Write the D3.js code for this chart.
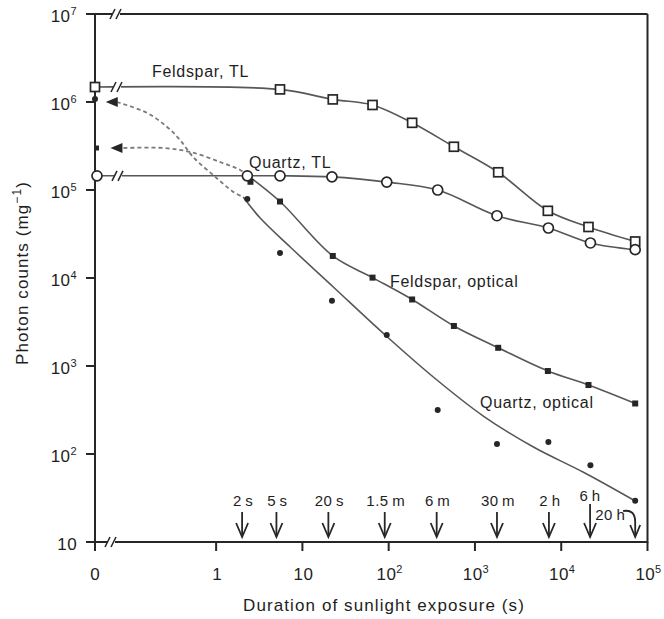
<!DOCTYPE html>
<html><head><meta charset="utf-8">
<script src="https://cdn.jsdelivr.net/npm/d3@7"></script>
<style>
body{margin:0;background:#fff}
svg{display:block}
text{font-family:"Liberation Sans",Arial,Helvetica,sans-serif;fill:#1e1e1e}
</style></head><body>
<svg id="c" width="664" height="619"></svg>
<script>
// ---- data (seconds, photon counts per mg) ----
const feldsparTimes = [5.5, 22.5, 65, 187, 570, 1860, 7000, 20700, 72000];
const feldsparTL = [1.39e6, 1.07e6, 9.25e5, 5.8e5, 3.1e5, 1.59e5, 5.8e4, 3.8e4, 2.6e4];
const feldsparTL0 = 1.48e6;
const feldsparOptTimes = [2.5, 5.5, 22.5, 65, 187, 570, 1860, 7000, 20700, 72000];
const feldsparOpt = [1.24e5, 7.4e4, 1.78e4, 1.01e4, 5.7e3, 2.85e3, 1.61e3, 877, 608, 375];
const feldsparOpt0 = 3.0e5;
const quartzTimes = [2.3, 5.5, 22, 95, 370, 1800, 7100, 21800, 72000];
const quartzTL = [1.45e5, 1.45e5, 1.41e5, 1.23e5, 1.0e5, 5.1e4, 3.7e4, 2.5e4, 2.1e4];
const quartzTL0 = 1.45e5;
const quartzOpt = [7.9e4, 1.92e4, 5.5e3, 2.25e3, 316, 130, 137, 74.5, 29.5];
const quartzOpt0 = 1.08e6;
// fitted curves
const quartzFitTimes = [2.06, 3.24, 7.22, 22.8, 91, 329, 1250, 4760, 18100, 68800];
const quartzFitValues = [8.32e4, 4.8e4, 2.25e4, 7.9e3, 2.25e3, 750, 270, 120, 62, 30];
const feldsparFitTimes = [2.29, 5.5, 22.5, 65, 187, 570, 1860, 7000, 20700, 72000];
const feldsparFitValues = [1.48e5, 7.4e4, 1.78e4, 1.01e4, 5.7e3, 2.85e3, 1.61e3, 877, 608, 375];
// dashed links from the zero-exposure optical values
const quartzDashTimes = [0.0705, 0.157, 0.268, 0.382, 0.541, 0.923, 1.57, 2.06];
const quartzDashValues = [1.0e6, 7.55e5, 5.24e5, 3.7e5, 2.37e5, 1.48e5, 9.57e4, 8.32e4];
const feldsparDashTimes = [0.0843, 0.245, 0.505, 1.11, 1.9, 2.29];
const feldsparDashValues = [3.0e5, 3.0e5, 2.7e5, 2.08e5, 1.69e5, 1.48e5];
// exposure markers
const arrowTimes = [2, 5, 20, 90, 360, 1800, 7200, 21600, 72000];
const arrowLabels = ["2\u2009s", "5\u2009s", "20\u2009s", "1.5\u2009m", "6\u2009m", "30\u2009m", "2\u2009h", "6\u2009h", "20\u2009h"];
// ticks
const xTickValues = [1, 10, 100, 1000, 10000, 100000];
const xTickLabels = [["1", ""], ["10", ""], ["10", "2"], ["10", "3"], ["10", "4"], ["10", "5"]];
const yTickValues = [10, 100, 1000, 10000, 100000, 1e6, 1e7];
const yTickLabels = [["10", ""], ["10", "2"], ["10", "3"], ["10", "4"], ["10", "5"], ["10", "6"], ["10", "7"]];

// ---- layout ----
const X0 = 95, XR = 647.5, YT = 14, YB = 542;
const xs = d3.scaleLog().domain([Math.pow(10, -1.2), 1e5]).range([112.6, XR]);
const ys = d3.scaleLog().domain([10, 1e7]).range([YB, YT]);
const xPos = t => t === 0 ? X0 : xs(t);

const svg = d3.select("#c");
const ink = "#262626", curveCol = "#575757";

// curves
const lineMono = d3.line().x(d => xPos(d[0])).y(d => ys(d[1])).curve(d3.curveMonotoneX);
const lineSmooth = d3.line().x(d => xPos(d[0])).y(d => ys(d[1])).curve(d3.curveCatmullRom.alpha(0.5));
function curve(times, vals, opts = {}) {
  const pts = times.map((t, i) => [t, vals[i]]);
  return svg.append("path").attr("d", (opts.smooth ? lineSmooth : lineMono)(pts)).attr("fill", "none")
    .attr("stroke", opts.color || curveCol).attr("stroke-width", opts.w || 1.6)
    .attr("stroke-dasharray", opts.dash || null);
}
curve([0, ...feldsparTimes], [feldsparTL0, ...feldsparTL], {smooth: true});
curve([0, ...quartzTimes], [quartzTL0, ...quartzTL], {smooth: true});
curve(quartzFitTimes, quartzFitValues, {smooth: true});
curve(feldsparFitTimes, feldsparFitValues, {smooth: true});
curve(quartzDashTimes, quartzDashValues, {dash: "4,3", color: "#7a7a7a", w: 1.8, smooth: true});
curve(feldsparDashTimes, feldsparDashValues, {dash: "4,3", color: "#7a7a7a", w: 1.8, smooth: true});

// arrowheads of dashed links
[[quartzDashTimes[0], quartzDashValues[0]], [feldsparDashTimes[0], feldsparDashValues[0]]].forEach((d, i) => {
  const bx = xs(d[0]) + (i ? -2 : 0), by = ys(d[1]);
  svg.append("path").attr("d", `M${bx - 11},${by} L${bx + 1},${by - 5} L${bx + 1},${by + 5} Z`).attr("fill", ink);
});

// axes frame
const ax = svg.append("g").attr("stroke", ink).attr("stroke-width", 2).attr("fill", "none");
ax.append("line").attr("x1", 86).attr("x2", XR).attr("y1", YT).attr("y2", YT);
ax.append("line").attr("x1", XR).attr("x2", XR).attr("y1", YT).attr("y2", YB + 1);
ax.append("line").attr("x1", 86).attr("x2", XR).attr("y1", YB).attr("y2", YB);
ax.append("line").attr("x1", X0).attr("x2", X0).attr("y1", YT).attr("y2", 551);
yTickValues.forEach(v => ax.append("line").attr("x1", 86).attr("x2", X0).attr("y1", ys(v)).attr("y2", ys(v)));
xTickValues.forEach(v => ax.append("line").attr("x1", xs(v)).attr("x2", xs(v)).attr("y1", YB).attr("y2", 551));

// break marks
function brk(x, y, w) {
  svg.append("rect").attr("x", x - 4).attr("y", y - 3).attr("width", 8).attr("height", 6).attr("fill", "#fff");
  [-3.5, 2.5].forEach(o => svg.append("line").attr("x1", x + o - 2.5).attr("y1", y + 5).attr("x2", x + o + 2.5).attr("y2", y - 5)
    .attr("stroke", ink).attr("stroke-width", w || 1.6));
}
brk(116, YT);
brk(117, ys(feldsparTL0));
brk(118, ys(quartzTL0));
brk(111, YB);

// markers
svg.selectAll(".fo").data(feldsparOptTimes).enter().append("rect")
  .attr("x", (t) => xs(t) - 3).attr("y", (t, i) => ys(feldsparOpt[i]) - 3).attr("width", 6).attr("height", 6).attr("fill", ink);
svg.append("rect").attr("x", X0 - 1).attr("y", ys(feldsparOpt0) - 2.5).attr("width", 5).attr("height", 5).attr("fill", ink);
svg.selectAll(".qo").data(quartzTimes).enter().append("circle")
  .attr("cx", t => xs(t)).attr("cy", (t, i) => ys(quartzOpt[i])).attr("r", 3).attr("fill", ink);
svg.append("circle").attr("cx", X0).attr("cy", ys(quartzOpt0)).attr("r", 3).attr("fill", ink);
svg.selectAll(".ft").data([0, ...feldsparTimes]).enter().append("rect")
  .attr("x", t => xPos(t) - 4.5).attr("y", (t, i) => ys([feldsparTL0, ...feldsparTL][i]) - 4.5)
  .attr("width", 9).attr("height", 9).attr("fill", "#fff").attr("stroke", ink).attr("stroke-width", 1.7);
svg.selectAll(".qt").data([0, ...quartzTimes]).enter().append("circle")
  .attr("cx", t => xPos(t) + (t === 0 ? 2 : 0)).attr("cy", (t, i) => ys([quartzTL0, ...quartzTL][i]))
  .attr("r", 5).attr("fill", "#fff").attr("stroke", ink).attr("stroke-width", 1.7);

// exposure arrows
const ar = svg.append("g").attr("stroke", ink).attr("stroke-width", 1.8).attr("fill", "none");
arrowTimes.forEach((t, i) => {
  const x = xs(t);
  if (i === 8) {
    ar.append("path").attr("d", `M${x - 12},${511} Q${x},${509} ${x},${522} L${x},${536}`);
    ar.append("path").attr("d", `M${x - 5},${525} L${x},${537} L${x + 5},${525}`);
    svg.append("text").attr("x", x - 40).attr("y", 520).attr("font-size", 15).attr("letter-spacing", 0.5).text(arrowLabels[i]);
    return;
  }
  const top = i === 7 ? 504 : 512;
  ar.append("line").attr("x1", x).attr("x2", x).attr("y1", top).attr("y2", 536);
  ar.append("path").attr("d", `M${x - 6},${523} L${x},${537} L${x + 6},${523}`);
  svg.append("text").attr("x", x + (i === 7 ? 0 : 1)).attr("y", i === 7 ? 501 : 506).attr("text-anchor", "middle")
    .attr("font-size", 15).attr("letter-spacing", 0.5).text(arrowLabels[i]);
});

// tick labels
function supText(sel, base, exp) {
  sel.append("tspan").text(base);
  if (exp) sel.append("tspan").attr("font-size", 11).attr("dy", -7).text(exp);
}
yTickValues.forEach((v, i) => {
  const t = svg.append("text").attr("x", 77).attr("y", ys(v) + 8).attr("text-anchor", "end")
    .attr("font-size", 17).attr("letter-spacing", 0.4);
  supText(t, yTickLabels[i][0], yTickLabels[i][1]);
});
xTickValues.forEach((v, i) => {
  const t = svg.append("text").attr("x", xs(v) + 1).attr("y", 580).attr("text-anchor", "middle")
    .attr("font-size", 17).attr("letter-spacing", 0.4);
  supText(t, xTickLabels[i][0], xTickLabels[i][1]);
});
svg.append("text").attr("x", X0).attr("y", 580).attr("text-anchor", "middle").attr("font-size", 17).text("0");

// series labels
const lab = (x, y, s) => svg.append("text").attr("x", x).attr("y", y).attr("font-size", 16).attr("letter-spacing", 0.7).text(s);
lab(152, 77, "Feldspar, TL");
lab(249, 168, "Quartz, TL");
lab(390, 287, "Feldspar, optical");
lab(480, 408, "Quartz, optical");

// axis titles
svg.append("text").attr("x", 384).attr("y", 611).attr("text-anchor", "middle").attr("font-size", 17)
  .attr("letter-spacing", 1.1).text("Duration of sunlight exposure (s)");
const yt = svg.append("text").attr("transform", "translate(28,273) rotate(-90)").attr("text-anchor", "middle")
  .attr("font-size", 17).attr("letter-spacing", 1.1);
yt.append("tspan").text("Photon counts (mg");
yt.append("tspan").attr("font-size", 12).attr("dy", -7).text("\u22121");
yt.append("tspan").attr("dy", 7).text(")");
</script>
</body></html>
